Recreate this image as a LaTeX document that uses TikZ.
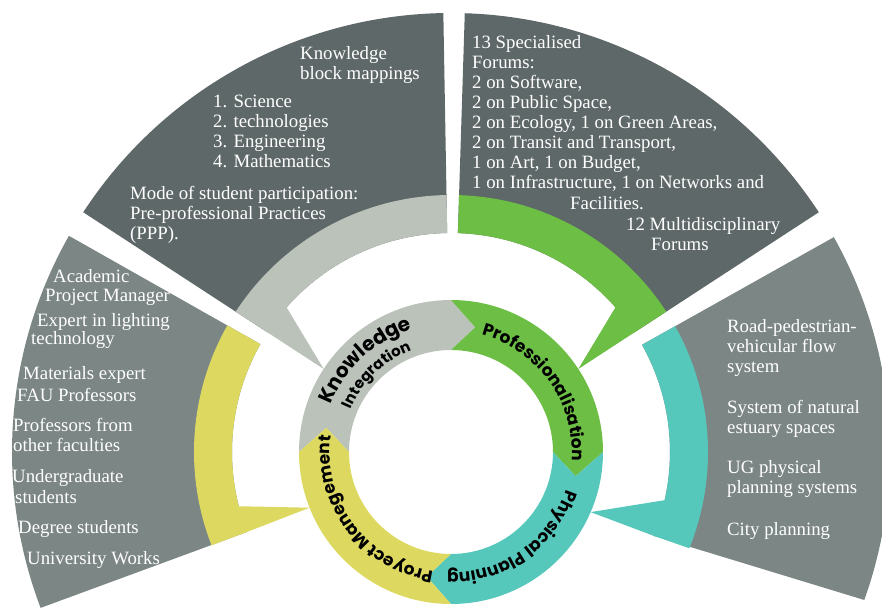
\documentclass[tikz,border=0pt]{standalone}
\usepackage{fontspec}
\setmainfont{Liberation Serif}
\newfontfamily\ringfont{Poppins}
\usetikzlibrary{decorations.text}

\definecolor{slatedark}{RGB}{95,104,104}
\definecolor{slatemid}{RGB}{124,134,133}
\definecolor{knowgray}{RGB}{186,194,186}
\definecolor{profgreen}{RGB}{108,190,69}
\definecolor{planteal}{RGB}{86,199,187}
\definecolor{manyellow}{RGB}{221,217,96}

\begin{document}
\begin{tikzpicture}[
  x=1pt, y=1pt,
  info/.style = {text=white, font=\fontsize{18.8}{20}\selectfont, align=left, anchor=base west, inner sep=0pt},
  ringtext/.style 2 args = {decorate, decoration={text along path, text align=center,
      text={|\ringfont\bfseries\fontsize{#1}{#1}\selectfont|#2}}}
]
  \useasboundingbox (-451,-160) rectangle (431,452);

  % Outer sectors
  \fill[slatedark] (91:219pt) -- (91:439pt) arc[start angle=91, end angle=146.9, radius=439pt]
    -- (146.9:219pt) arc[start angle=146.9, end angle=91, radius=219pt] -- cycle;
  \fill[slatedark] (88.2:219pt) -- (88.2:439pt) arc[start angle=88.2, end angle=33.1, radius=439pt]
    -- (33.1:219pt) arc[start angle=33.1, end angle=88.2, radius=219pt] -- cycle;
  \fill[slatemid] (150.5:219pt) -- (150.5:439pt) arc[start angle=150.5, end angle=200.8, radius=439pt]
    -- (201.4:219pt) arc[start angle=201.4, end angle=150.5, radius=219pt] -- cycle;
  \fill[slatemid] (29.3:219pt) -- (29.3:439pt) arc[start angle=29.3, end angle=-19.7, radius=439pt]
    -- (-22.47:219pt) arc[start angle=-22.47, end angle=29.3, radius=219pt] -- cycle;

  % Coloured bands
  \fill[knowgray] (91:219pt) -- (91:257pt) arc[start angle=91, end angle=146.9, radius=257pt]
    -- (146.9:219pt) arc[start angle=146.9, end angle=91, radius=219pt] -- cycle;
  \fill[profgreen] (88.2:219pt) -- (88.2:257pt) arc[start angle=88.2, end angle=33.1, radius=257pt]
    -- (33.1:219pt) arc[start angle=33.1, end angle=88.2, radius=219pt] -- cycle;
  \fill[manyellow] (150.5:219pt) -- (150.5:257pt) arc[start angle=150.5, end angle=201.3, radius=257pt]
    -- (201.4:219pt) arc[start angle=201.4, end angle=150.5, radius=219pt] -- cycle;
  \fill[planteal] (29.3:219pt) -- (29.3:257pt) arc[start angle=29.3, end angle=-22.0, radius=257pt]
    -- (-22.47:219pt) arc[start angle=-22.47, end angle=29.3, radius=219pt] -- cycle;

  % Wedges from the bands down to the ring
  \fill[knowgray] (138.5:221pt) -- (146.9:152pt) -- (146.9:221pt) -- cycle;
  \fill[profgreen] (41.5:221pt) -- (33.1:152pt) -- (33.1:221pt) -- cycle;
  \fill[manyellow] (194.2:221pt) -- (201.5:152pt) -- (201.4:221pt) -- cycle;
  \fill[planteal] (-12.5:221pt) -- (-23.3:152pt) -- (-22.45:221pt) -- cycle;

  % Cycle ring
  \fill[knowgray] (180:152pt) arc[start angle=180, end angle=90, radius=152pt] -- (79:127pt)
    -- (90:102pt) arc[start angle=90, end angle=180, radius=102pt] -- (169:127pt) -- cycle;
  \fill[profgreen] (90:152pt) arc[start angle=90, end angle=0, radius=152pt] -- (-11:127pt)
    -- (0:102pt) arc[start angle=0, end angle=90, radius=102pt] -- (79:127pt) -- cycle;
  \fill[planteal] (0:152pt) arc[start angle=0, end angle=-90, radius=152pt] -- (-101:127pt)
    -- (-90:102pt) arc[start angle=-90, end angle=0, radius=102pt] -- (-11:127pt) -- cycle;
  \fill[manyellow] (270:152pt) arc[start angle=270, end angle=180, radius=152pt] -- (169:127pt)
    -- (180:102pt) arc[start angle=180, end angle=270, radius=102pt] -- (259:127pt) -- cycle;

  % Ring labels
  \path[ringtext={20}{Knowledge}] (180:129pt) arc[start angle=180, end angle=86, radius=129pt];
  \path[ringtext={15}{Integration}] (181:109pt) arc[start angle=181, end angle=87, radius=109pt];
  \path[ringtext={17}{Professionalisation}] (90:121pt) arc[start angle=90, end angle=-19, radius=121pt];
  \path[ringtext={17}{Physical Planning}] (0:121pt) arc[start angle=0, end angle=-110, radius=121pt];
  \path[ringtext={17}{Proyect Manegement}] (272:121pt) arc[start angle=272, end angle=162, radius=121pt];

  % Sector texts, placed in picture pixels (base of the last line)
  \begin{scope}[shift={(-451pt,452pt)}, x=1pt, y=-1pt]
    % Knowledge sector
    \node[info] (kbm) at (300,80) {Knowledge\\block mappings};
    \node[info] (stem) at (213,168) {1. Science\\2. technologies\\3. Engineering\\4. Mathematics};
    \node[info] (mode) at (130,240) {Mode of student participation:\\Pre-professional Practices\\(PPP).};

    % Professionalisation sector
    \node[info] (forums) at (472,189) {13 Specialised\\Forums:\\2 on Software,\\2 on Public Space,\\
      2 on Ecology, 1 on Green Areas,\\2 on Transit and Transport,\\1 on Art, 1 on Budget,\\
      1 on Infrastructure, 1 on Networks and};
    \node[info] (facil) at (570,210) {Facilities.};
    \node[info] (multi) at (626,251) {12 Multidisciplinary\\\hspace*{25pt}Forums};

    % Physical Planning sector
    \node[info] (road) at (727,373) {Road-pedestrian-\\vehicular flow\\system};
    \node[info] (estuary) at (727,434) {System of natural\\estuary spaces};
    \node[info] (ugsys) at (727,494) {UG physical\\planning systems};
    \node[info] (city) at (727,536) {City planning};

    % Project Management sector
    \node[info] (acad) at (53,283) {Academic};
    \node[info] (apm) at (45,302) {Project Manager};
    \node[info] (light) at (37,327) {Expert in lighting};
    \node[info] (techno) at (31,345) {technology};
    \node[info] (mater) at (23,380) {Materials expert};
    \node[info] (fau) at (17,402) {FAU Professors};
    \node[info] (other) at (13,452) {Professors from\\other faculties};
    \node[info] (under) at (12,483) {Undergraduate};
    \node[info] (stud) at (15,504) {students};
    \node[info] (degree) at (18,534) {Degree students};
    \node[info] (works) at (27,564) {University Works};
  \end{scope}

\end{tikzpicture}
\end{document}
